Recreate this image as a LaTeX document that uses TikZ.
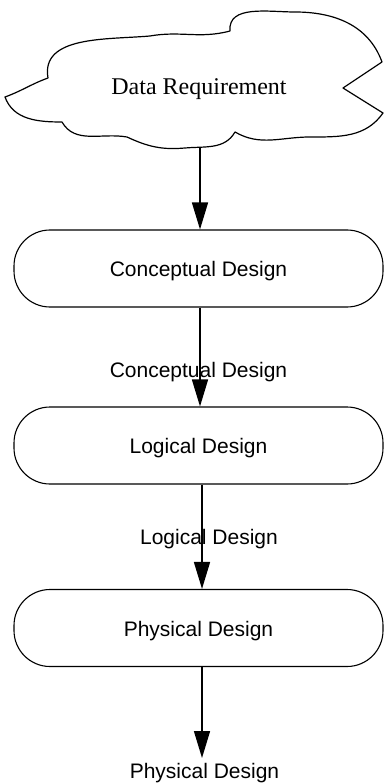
\documentclass[tikz,border=0pt]{standalone}
\usepackage{fontspec}
\setmainfont{Liberation Serif}
\setsansfont{Liberation Sans}
\usetikzlibrary{arrows.meta}
\begin{document}
\begin{tikzpicture}[x=1pt,y=1pt,
  stagebox/.style={draw, line width=1.1pt, rounded corners=36pt,
    minimum width=369pt, minimum height=77pt, inner sep=0pt,
    text height=16pt, text depth=0pt,
    font=\sffamily\fontsize{21}{25}\selectfont},
  flowarr/.style={line width=1.5pt, -{Triangle[length=27pt,width=16pt]}},
  lbl/.style={font=\sffamily\fontsize{21}{25}\selectfont, inner sep=0pt, anchor=base},
  cloudline/.style={line width=1.2pt, line join=round}]
\useasboundingbox (0,0) rectangle (384,-783);

% cloud
\draw[cloudline] (5,-97) to[out=20,in=200] (48,-78)
  to[out=100,in=185] (150,-36)
  to[out=10,in=195] (230,-31)
  to[out=95,in=180] (295,-12)
  to[out=0,in=110] (382,-62)
  -- (343,-88) -- (383,-113)
  to[out=235,in=0] (310,-137)
  to[out=180,in=330] (235,-132)
  to[out=240,in=5] (185,-148)
  to[out=185,in=335] (127,-137)
  to[out=170,in=300] (62,-122)
  to[out=180,in=290] cycle;
\node[font=\fontsize{24}{28}\selectfont, inner sep=0pt, anchor=base] (req) at (199,-95) {Data Requirement};
\coordinate (cloudbot) at (200,-148);

% stages
\node[stagebox] (concept) at (198.5,-268.5) {Conceptual Design};
\node[stagebox] (logical) at (198.5,-445.5) {Logical Design};
\node[stagebox] (physical) at (198.5,-628) {Physical Design};

\coordinate (x1) at (200,0);
\coordinate (x2) at (202,0);
\coordinate (end) at (202,-758);

\draw[flowarr] (cloudbot) -- (concept.north -| x1);
\draw[flowarr] (concept.south -| x1) -- (logical.north -| x1);
\draw[flowarr] (logical.south -| x2) -- (physical.north -| x2);
\draw[flowarr] (physical.south -| end) -- (end);

% labels
\node[lbl] (lab1) at (198.5,-377) {Conceptual Design};
\node[lbl] (lab2) at (209,-544) {Logical Design};
\node[lbl] (lab3) at (204.5,-778) {Physical Design};
\end{tikzpicture}
\end{document}
